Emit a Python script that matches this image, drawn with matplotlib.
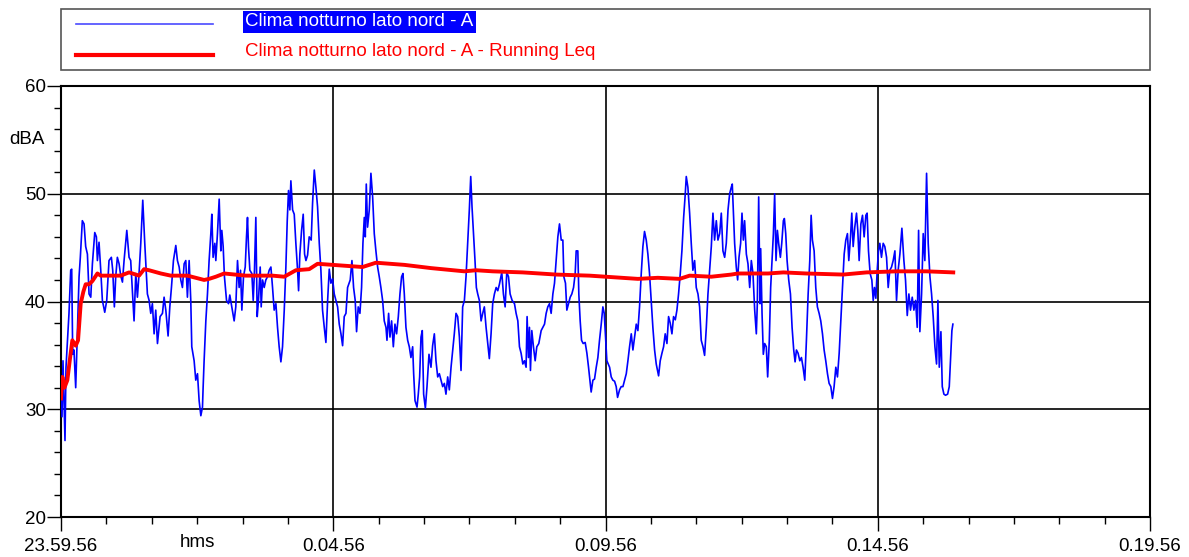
import matplotlib
matplotlib.use('Agg')
import matplotlib.pyplot as plt
from matplotlib.lines import Line2D
from matplotlib.patches import Rectangle

plt.rcParams['font.family'] = ['Liberation Sans', 'DejaVu Sans']

# time in seconds from 23.59.56, level in dB(A)
t_level = [
    0, 1.1, 2.2, 4.4, 5.5, 7.0, 8.8, 10.7, 11.8, 12.9, 14.3, 16.2, 18.0, 19.9, 21.3, 23.5, 25.4, 27.2, 29.1, 30.9,
    32.8, 34.6, 37.2, 39.0, 40.1, 41.9, 43.8, 45.6, 48.2, 50.4, 52.9, 55.5, 57.0, 58.8, 60.3, 62.1, 64.0, 65.8, 67.7, 69.5,
    72.5, 75.0, 76.8, 78.7, 80.5, 82.4, 84.2, 86.0, 87.9, 90.1, 92.3, 95.2, 97.1, 98.9, 100.7, 102.6, 104.4, 106.3, 109.2, 111.8,
    113.6, 115.5, 118.0, 119.9, 121.7, 123.9, 126.5, 128.3, 130.2, 132.0, 133.8, 135.7, 137.5, 139.3, 141.2, 143.0, 144.1, 146.7, 148.5, 150.4,
    152.2, 154.1, 155.9,
    156.6, 157.7, 159.6, 161.4, 163.2, 165.1, 166.2, 167.6, 169.5, 170.6, 172.4, 174.3, 176.1, 177.2, 178.7, 180.1, 182.4, 184.6, 186.0, 188.2,
    190.8, 192.6, 194.5, 196.3, 197.8, 199.3, 201.1, 203.0, 204.4, 205.5, 206.6, 208.1, 210.3, 211.8, 213.2, 214.7, 216.2, 217.6, 219.5, 220.6,
    222.1, 223.9, 225.7, 227.6, 229.4, 231.3, 233.1, 234.9, 236.8, 238.6, 240.4, 242.3, 244.1, 246.0, 247.8, 249.3, 250.7, 252.2, 253.3, 255.2,
    257.0, 258.8, 260.7, 261.8, 263.2, 265.1, 266.9, 268.4, 269.9, 271.7, 273.5, 275.7, 277.2, 279.1, 280.9, 282.7, 284.6, 286.4, 288.2, 290.1,
    291.9, 293.8, 295.6, 297.4, 299.3, 301.1, 303.0, 304.8, 306.6, 308.5, 310.3, 312.1, 314.0, 315.8,
    318.7, 320.6, 322.4, 324.2, 325.7, 327.5, 329.4, 331.2, 332.7, 334.2, 335.3, 336.4, 337.8, 339.7, 341.5, 343.4, 345.2, 347.0, 348.9, 350.7,
    352.5, 354.4, 356.2, 358.1, 359.2, 361.0, 362.5, 364.3, 366.2, 368.0, 369.8, 371.7, 373.5, 375.3, 376.8, 378.3, 380.1, 382.0, 383.8, 385.6,
    387.5, 388.6, 390.1, 392.3, 393.7, 395.2, 396.7, 398.1, 399.6, 401.5, 403.3, 405.5, 407.7, 409.5, 411.4, 413.2, 415.1, 416.9, 418.7, 420.6,
    422.4, 424.2, 426.1, 427.9, 429.8, 431.6, 433.4, 435.3, 437.1, 439.0, 440.8, 442.6, 444.5, 446.3, 448.1, 450.0, 451.5, 452.9, 454.8, 456.2,
    457.7, 459.2, 461.0, 462.9, 464.7, 466.5, 468.4, 470.2, 472.0, 473.9, 475.7,
    477.6, 479.5, 481.3, 483.1, 485.7, 487.5, 489.4, 491.2, 493.1, 494.9, 497.1, 499.7, 501.5, 503.4, 505.2, 507.0, 508.9, 510.7, 512.5, 513.6,
    515.1, 516.2, 517.3, 518.8, 520.6, 522.5, 524.3, 526.5, 529.1, 530.9, 532.8, 534.6, 536.4, 538.3, 540.1, 542.0, 543.8, 545.6, 547.5, 549.3,
    551.2, 553.0, 554.1, 555.9, 557.4, 559.2, 561.1, 562.9, 564.8, 566.6, 567.7, 569.5, 570.6, 572.1, 573.6, 575.4, 577.6, 579.5, 581.3, 582.8,
    584.2, 586.1, 587.9, 589.8, 591.6, 593.4, 595.3, 597.1, 598.6, 600.1, 601.5, 603.0, 604.5, 606.3, 608.1, 610.0, 611.8, 613.3, 615.5, 617.3,
    619.2, 621.0, 622.9, 624.7, 626.5, 628.4, 630.2, 632.0, 633.9,
    635.7, 637.5, 639.4, 641.2, 643.0, 644.9, 646.7, 648.5, 650.4, 652.2, 654.1, 655.9, 658.5, 660.3, 662.2, 664.0, 665.8, 667.7, 669.5, 671.3,
    673.2, 675.0, 676.9, 678.7, 680.5, 682.4, 684.2, 686.1, 687.9, 689.0, 690.8, 692.7, 694.5, 696.3, 698.2, 700.0, 701.9, 703.7, 705.5, 707.4,
    709.2, 711.1, 712.9, 714.7, 716.6, 718.4, 720.2, 722.1, 723.9, 725.8, 727.6, 729.4, 731.3, 733.1, 735.0, 736.8, 738.6, 739.7, 741.2, 742.3,
    744.1, 745.6, 747.1, 748.9, 750.4, 751.9, 753.3, 755.2, 757.0, 758.9, 760.7, 762.5, 764.4, 766.2, 767.3, 768.8, 770.3, 771.0, 772.5, 773.9,
    775.4, 777.2, 778.7, 780.5, 782.0, 783.5, 785.0, 786.4, 787.9, 789.4, 790.8, 792.7, 794.2, 796.0,
    797.1, 798.6, 800.1, 801.9, 803.8, 805.6, 807.4, 808.9, 810.4, 812.2, 814.1, 815.9, 817.7, 819.6, 821.4, 823.3, 825.1, 826.6, 828.0, 829.9,
    831.7, 833.5, 835.4, 837.2, 839.1, 840.9, 842.7, 844.6, 846.4, 848.3, 850.1, 851.9, 853.8, 855.6, 857.5, 859.3, 861.1, 863.0, 864.8, 866.6,
    868.1, 870.0, 871.4, 872.9, 874.7, 876.6, 878.0, 879.5, 881.4, 883.2, 885.0, 886.9, 888.3, 889.8, 891.6, 893.5, 895.0, 896.4, 897.9, 899.4,
    900.8, 902.3, 904.1, 906.0, 907.8, 909.7, 911.5, 913.3, 915.2, 917.0, 918.9, 920.7, 922.5, 924.4, 926.6, 928.8, 930.6, 932.5, 934.3, 936.1,
    938.0, 939.8, 941.7, 943.5, 945.0, 946.4, 948.3, 950.1, 951.9, 953.8, 955.6, 957.5, 959.3, 961.1, 963.0, 964.8, 966.3, 967.8, 969.6, 971.1,
    972.9, 974.7, 977.0, 978.8, 980.3, 981.7, 982.8,
]
level = [
    33.0, 29.3, 34.5, 27.1, 33.9, 36.2, 38.9, 42.9, 43.0, 35.1, 35.5, 32.0, 37.0, 42.3, 44.1, 47.5, 47.2, 45.1, 44.4, 40.7,
    40.4, 43.5, 46.4, 46.0, 43.8, 45.5, 42.9, 40.1, 39.0, 40.1, 43.8, 44.1, 42.9, 39.5, 42.3, 44.1, 43.5, 42.4, 41.8, 43.8,
    46.6, 44.1, 43.8, 41.0, 38.2, 42.6, 40.4, 42.6, 45.4, 49.4, 45.4, 40.7, 40.1, 38.9, 39.8, 37.0, 39.2, 36.1, 38.6, 38.9,
    40.4, 39.2, 36.8, 39.5, 41.3, 43.8, 45.2, 43.8, 43.2, 42.0, 41.3, 43.5, 43.8, 40.4, 43.8, 40.1, 35.8, 34.5, 32.7, 33.3,
    30.8, 29.4, 30.2,
    32.0, 34.5, 38.2, 40.7, 43.8, 46.3, 48.1, 44.1, 45.4, 43.8, 46.3, 49.5, 44.7, 46.6, 45.1, 42.3, 40.1, 39.8, 40.6, 39.5,
    38.2, 39.5, 43.8, 41.3, 42.9, 39.2, 42.3, 43.2, 46.0, 47.8, 45.1, 42.9, 42.6, 40.1, 42.9, 47.8, 38.6, 40.1, 43.2, 39.5,
    42.0, 41.3, 42.0, 42.3, 42.9, 43.2, 41.3, 39.2, 39.8, 37.6, 35.8, 34.4, 35.8, 39.2, 43.2, 47.5, 50.3, 48.5, 51.2, 48.5,
    48.1, 45.4, 42.9, 41.0, 44.4, 46.6, 48.1, 44.4, 43.8, 44.3, 46.0, 45.7, 49.1, 52.2, 50.6, 48.8, 45.4, 42.9, 39.2, 37.6,
    36.2, 40.1, 43.0, 41.7, 42.1, 40.7, 40.1, 39.5, 37.9, 37.0, 35.9, 38.6, 38.9, 41.3,
    42.0, 43.8, 41.3, 40.1, 37.2, 39.5, 38.9, 41.3, 45.4, 47.8, 46.0, 50.9, 46.9, 48.5, 51.9, 49.7, 46.3, 44.7, 43.2, 42.3,
    41.3, 40.1, 38.2, 37.6, 36.4, 38.9, 36.7, 38.2, 35.8, 37.9, 37.0, 38.6, 40.7, 42.3, 42.6, 40.7, 37.6, 36.4, 35.8, 34.8,
    35.8, 33.3, 30.8, 30.2, 31.4, 33.0, 36.7, 37.3, 31.4, 30.1, 32.1, 35.1, 33.9, 35.9, 37.0, 34.5, 33.0, 33.3, 32.7, 32.1,
    32.4, 31.4, 33.0, 31.8, 33.9, 35.5, 37.0, 38.9, 38.6, 36.7, 33.6, 39.5, 40.1, 42.3, 45.4, 48.6, 51.6, 48.8, 46.0, 43.8,
    41.3, 40.7, 40.1, 38.2, 38.9, 39.5, 37.6, 36.1, 34.7, 37.0, 39.8,
    40.7, 41.3, 41.0, 41.6, 42.7, 40.7, 39.5, 42.7, 42.3, 40.7, 40.1, 39.8, 38.9, 38.2, 35.8, 35.2, 34.2, 34.5, 33.9, 38.6,
    34.8, 37.6, 33.6, 37.3, 35.8, 34.5, 35.8, 36.1, 37.3, 37.6, 37.9, 38.9, 39.5, 39.8, 38.9, 40.7, 41.7, 43.8, 46.0, 47.2,
    45.7, 45.7, 42.3, 41.7, 39.2, 39.8, 40.4, 40.7, 41.3, 42.6, 44.7, 44.7, 40.7, 38.2, 36.4, 36.1, 36.2, 35.2, 33.9, 32.7,
    31.6, 32.7, 32.8, 33.9, 34.8, 36.4, 37.9, 39.5, 38.9, 36.7, 34.5, 34.2, 33.9, 33.0, 32.7, 32.6, 32.1, 31.1, 31.8, 32.1,
    32.1, 32.7, 33.3, 34.5, 35.8, 37.0, 35.5, 36.7, 37.9,
    37.3, 39.5, 42.6, 45.1, 46.5, 45.7, 44.4, 42.6, 40.1, 37.6, 35.5, 34.2, 33.1, 34.5, 35.2, 35.8, 37.0, 36.1, 38.6, 38.0,
    37.0, 38.6, 38.3, 39.2, 40.7, 42.6, 44.7, 47.8, 50.0, 51.6, 50.6, 48.2, 45.4, 42.9, 43.8, 41.3, 40.7, 39.5, 36.4, 35.8,
    35.0, 37.6, 40.7, 42.9, 45.1, 48.2, 45.7, 47.5, 45.7, 46.3, 48.2, 44.7, 44.1, 45.4, 48.5, 50.0, 50.6, 50.9, 47.8, 45.4,
    43.2, 42.0, 44.1, 45.4, 48.2, 45.7, 47.5, 44.4, 43.5, 41.3, 43.8, 42.6, 39.2, 37.0, 39.8, 49.7, 39.8, 44.9, 38.9, 35.1,
    36.1, 35.8, 33.0, 36.4, 41.3, 43.8, 46.3, 50.0, 43.8, 46.6, 45.4, 44.1, 45.4, 47.5,
    47.7, 46.3, 43.8, 42.0, 40.7, 37.6, 35.5, 34.4, 35.5, 35.2, 34.5, 34.8, 33.9, 32.7, 36.4, 40.7, 43.8, 48.0, 45.7, 44.7,
    41.3, 39.5, 38.9, 38.2, 37.0, 35.5, 34.5, 33.3, 32.4, 32.1, 31.0, 32.1, 33.9, 33.0, 35.2, 38.2, 41.3, 44.4, 45.7, 46.3,
    43.8, 46.0, 48.2, 45.1, 46.9, 48.2, 46.6, 43.8, 47.2, 48.0, 46.0, 48.0, 48.2, 44.7, 42.6, 42.0, 40.1, 41.3, 40.3, 42.9,
    44.7, 45.4, 44.1, 45.4, 45.1, 44.1, 41.3, 42.9, 43.2, 43.8, 44.7, 40.1, 42.9, 44.4, 46.8, 43.8, 42.0, 38.7, 40.7, 39.2,
    40.4, 39.2, 40.1, 37.6, 46.6, 37.2, 40.7, 46.3, 43.8, 51.9, 45.4, 42.3, 40.7, 38.6, 35.8, 34.2, 40.1, 33.9, 37.2, 32.1,
    31.4, 31.3, 31.4, 32.1, 34.8, 37.3, 37.9,
]

# running Leq
t_leq = [0, 1.5, 3.8, 7.0, 9.6, 12.5, 16.2, 18.8, 21.7, 24.6, 27.2, 30.9, 34.6, 40.1, 43.8, 51.1, 65.8, 75.0, 86.0, 91.6,
         97.1, 110.0, 121.0, 139.3, 157.7, 163.2, 170.6, 179.8, 203.7, 233.1, 246.0, 258.8, 273.5, 282.7, 299.3, 315.8,
         332.3, 347.0, 378.3, 407.7, 444.5, 457.3, 475.7, 508.9, 545.6, 582.4, 635.7, 657.7, 681.6, 692.7, 716.6, 738.6,
         746.0, 779.1, 796.0, 821.4, 861.9, 887.6, 920.7, 953.8, 983.2]
leq = [31.0, 33.0, 32.0, 32.7, 34.5, 36.4, 35.9, 36.4, 39.8, 40.9, 41.6, 41.6, 41.9, 42.6, 42.4, 42.4, 42.4, 42.7, 42.4, 43.0,
       42.9, 42.6, 42.4, 42.4, 42.0, 42.1, 42.3, 42.6, 42.4, 42.4, 42.3, 42.9, 43.0, 43.5, 43.4, 43.3,
       43.2, 43.6, 43.4, 43.1, 42.8, 42.9, 42.8, 42.7, 42.5, 42.4, 42.1, 42.2, 42.1, 42.4, 42.3, 42.5,
       42.6, 42.6, 42.7, 42.6, 42.5, 42.7, 42.8, 42.8, 42.7]

x_ticks = [0, 300, 600, 900, 1200]
x_labels = ['23.59.56', '0.04.56', '0.09.56', '0.14.56', '0.19.56']
y_ticks = [20, 30, 40, 50, 60]
series_names = ['Clima notturno lato nord - A', 'Clima notturno lato nord - A - Running Leq']

W, H = 1189, 557
fig = plt.figure(figsize=(W / 100, H / 100), dpi=100)
ax = fig.add_axes([61 / W, 1 - 517 / H, 1089 / W, 431 / H])

ax.plot(t_level, level, color='#0000ff', lw=1.2, zorder=3)
ax.plot(t_leq, leq, color='#ff0000', lw=2.8, zorder=4)

ax.set_xlim(0, 1200)
ax.set_ylim(20, 60)
ax.set_xticks(x_ticks, x_labels)
ax.set_xticks(range(0, 1201, 50), minor=True)
ax.set_yticks(y_ticks)
ax.set_yticks(range(20, 61, 2), minor=True)
ax.grid(which='major', color='black', lw=1.2)
ax.tick_params(which='major', length=10, width=1, labelsize=13.5)
ax.tick_params(axis='y', which='major', pad=1)
ax.tick_params(axis='x', which='major', pad=5)
ax.tick_params(which='minor', length=5, width=1)
for s in ax.spines.values():
    s.set_linewidth(1.5)

fig.text(45 / W, 1 - 139 / H, 'dBA', ha='right', va='center', fontsize=13.5)
fig.text(197 / W, 1 - 534 / H, 'hms', ha='center', va='top', fontsize=13.5)

# legend box
fig.patches.append(Rectangle((61 / W, 1 - 70 / H), 1089 / W, 61 / H, transform=fig.transFigure,
                             facecolor='white', edgecolor='#555555', lw=1.2))
fig.lines.append(Line2D([76 / W, 213 / W], [1 - 24 / H] * 2, transform=fig.transFigure, color='#4a4aff', lw=1.2))
fig.lines.append(Line2D([76 / W, 213 / W], [1 - 55 / H] * 2, transform=fig.transFigure, color='#ff0000', lw=3))
fig.text(245 / W, 1 - 22 / H, series_names[0], color='white', ha='left', va='center', fontsize=13.5,
         bbox=dict(boxstyle='square,pad=0.12', facecolor='#0000ff', edgecolor='none'))
fig.text(245 / W, 1 - 52 / H, series_names[1], color='#ff0000', ha='left', va='center', fontsize=13.5)

fig.savefig('out.png', dpi=100)
